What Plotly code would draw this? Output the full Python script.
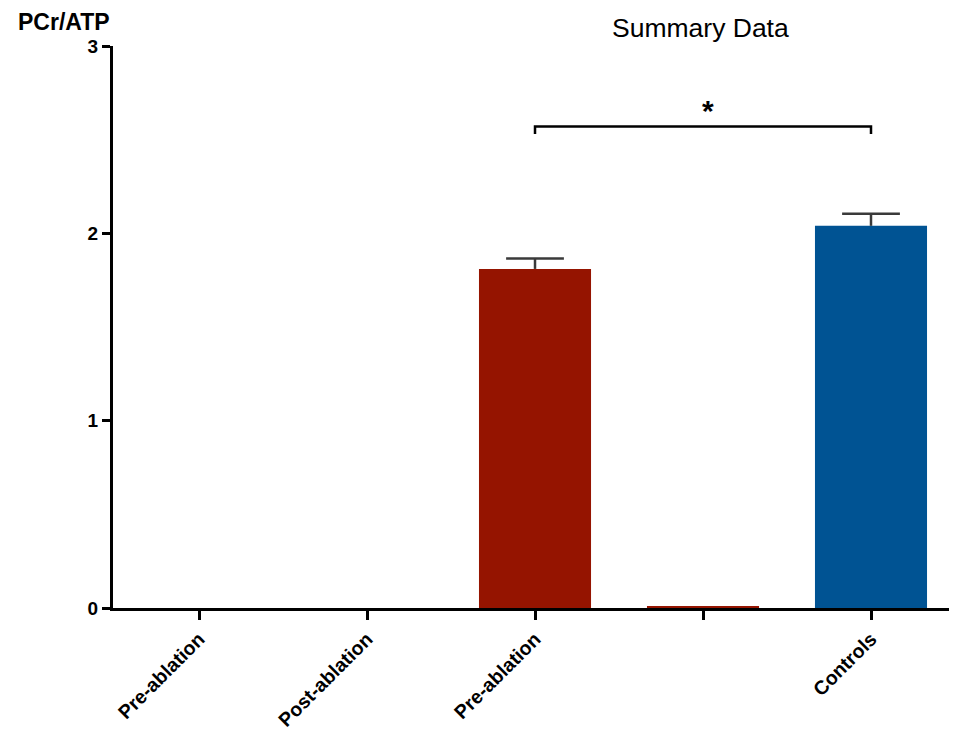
import plotly.graph_objects as go

positions = [0, 1, 2, 3, 4]
tick_labels = ["Pre-ablation", "Post-ablation", "Pre-ablation", "", "Controls"]
values = [None, None, 1.81, 0.01, 2.04]
errors = [None, None, 0.055, None, 0.065]
bar_colors = ["#951400", "#951400", "#951400", "#951400", "#005393"]

sig_pair = [2, 4]
sig_y = 2.57
sig_drop = 0.04

CAP_HALF = 0.172  # half cap width in category units

fig = go.Figure()
fig.add_trace(go.Bar(
    x=positions, y=values, width=0.667,
    marker=dict(color=bar_colors, line=dict(width=0)),
    showlegend=False,
))

# upper-only SEM whiskers built from the data arrays
ex, ey = [], []
for p, v, e in zip(positions, values, errors):
    if v is None or e is None:
        continue
    ex += [p, p, None, p - CAP_HALF, p + CAP_HALF, None]
    ey += [v, v + e, None, v + e, v + e, None]
fig.add_trace(go.Scatter(x=ex, y=ey, mode="lines",
                         line=dict(color="#3a3a3a", width=2.5),
                         showlegend=False, hoverinfo="skip"))

# significance bracket
fig.add_trace(go.Scatter(
    x=[sig_pair[0], sig_pair[0], sig_pair[1], sig_pair[1]],
    y=[sig_y - sig_drop, sig_y, sig_y, sig_y - sig_drop],
    mode="lines", line=dict(color="black", width=2.5), showlegend=False,
    hoverinfo="skip",
))
fig.add_annotation(x=(sig_pair[0] + sig_pair[1]) / 2 + 0.03, y=sig_y, yshift=-2,
                   text="<b>*</b>", showarrow=False, yanchor="bottom",
                   font=dict(size=30, color="black", family="Liberation Sans"))

fig.add_annotation(xref="paper", yref="paper", x=0.698, y=1.0, yshift=18,
                   text="Summary Data", showarrow=False, xanchor="center", yanchor="middle",
                   font=dict(size=26.5, color="black", family="Liberation Sans"))
fig.add_annotation(xref="paper", yref="paper", x=-0.115, y=1.0, yshift=24,
                   text="<b>PCr/ATP</b>", showarrow=False, xanchor="left", yanchor="middle",
                   font=dict(size=23, color="black", family="Liberation Sans"))

fig.update_layout(
    width=949, height=722,
    margin=dict(l=105, r=2, t=38, b=122, autoexpand=False),
    plot_bgcolor="white", paper_bgcolor="white",
    font=dict(family="Liberation Sans", color="black"),
)
fig.update_xaxes(
    range=[-0.512, 4.5], tickvals=positions, ticktext=[f"<b>{t}</b>" if t else "" for t in tick_labels],
    tickangle=-45, ticks="outside", ticklen=9, tickwidth=3, tickcolor="black",
    showline=True, linecolor="black", linewidth=3, showgrid=False, zeroline=False,
    tickfont=dict(size=19.5, family="Liberation Sans", color="black"), automargin=False,
)
fig.update_yaxes(
    range=[0, 3], tickvals=[0, 1, 2, 3], ticktext=["<b>0</b>", "<b>1</b>", "<b>2</b>", "<b>3</b>"],
    ticks="outside", ticklen=8, tickwidth=3, tickcolor="black",
    showline=True, linecolor="black", linewidth=3, showgrid=False, zeroline=False,
    tickfont=dict(size=19, family="Liberation Sans", color="black"), automargin=False,
)

fig.write_html("out.html")
